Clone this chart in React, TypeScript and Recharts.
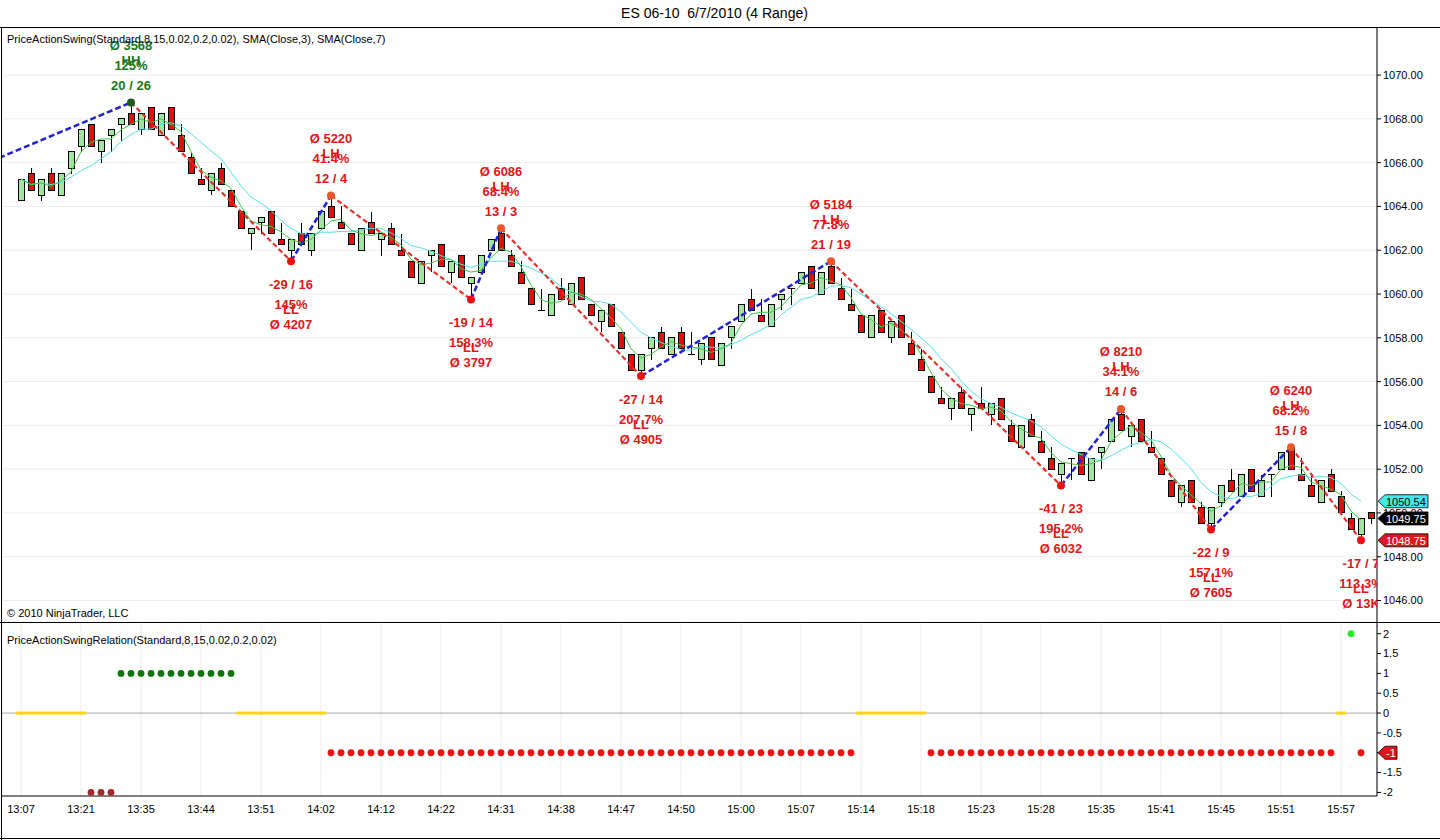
import React from 'react';
import {
  ComposedChart,
  Bar,
  Line,
  Scatter,
  XAxis,
  YAxis,
  CartesianGrid,
  ReferenceLine,
} from 'recharts';

const FONT = '"Liberation Sans", Arial, sans-serif';

// 4-range bars, one per index
const opens = [
  1064.25, 1065.5, 1064.5, 1065.5, 1064.5, 1065.75, 1066.75, 1067.75, 1066.5, 1067.25,
  1067.75, 1068.25, 1067.5, 1068.5, 1067.25, 1068.5, 1067.25, 1066.25, 1065.25, 1064.75,
  1065.75, 1064.75, 1063.75, 1062.75, 1063.25, 1063.75, 1062.5, 1062, 1062.75, 1062,
  1063, 1064, 1063.25, 1062.75, 1062, 1063.25, 1062.5, 1063, 1062, 1061.5,
  1060.5, 1061.75, 1062.25, 1061, 1061.75, 1060.5, 1061, 1062, 1062.75, 1061.75,
  1061, 1060.25, 1059.25, 1059, 1060.25, 1059.5, 1060.75, 1059.5, 1058.75, 1059.5,
  1058.25, 1057.25, 1056.5, 1057.5, 1058.25, 1057.25, 1058.25, 1057.25, 1057, 1058,
  1056.75, 1058, 1058.75, 1059.75, 1059, 1058.5, 1059.75, 1060.25, 1060.5, 1061.25,
  1060, 1061.25, 1060.25, 1059.5, 1059, 1058, 1059.25, 1058, 1059, 1057.75,
  1057, 1056.25, 1055.25, 1054.75, 1055.5, 1054.5, 1055, 1054.5, 1055.25, 1054,
  1053, 1054.25, 1053.25, 1052.5, 1051.75, 1052.5, 1052.75, 1051.5, 1052.75, 1053.25,
  1054.5, 1053.5, 1054.25, 1053, 1052.5, 1051.5, 1050.5, 1051.5, 1050.25, 1049.5,
  1050.5, 1051.5, 1050.75, 1052, 1050.75, 1051.75, 1052, 1053, 1051.75, 1051.25,
  1050.5, 1051.75, 1050.75, 1049.75, 1049, 1050,
];
const highs = [
  1065.25, 1065.75, 1065.25, 1065.75, 1065.5, 1066.5, 1067.5, 1067.75, 1067, 1067.5,
  1068, 1068.75, 1068.25, 1068.5, 1068.25, 1068.5, 1067.75, 1066.5, 1065.75, 1065.5,
  1066, 1064.75, 1063.75, 1063, 1063.5, 1063.75, 1063.25, 1062.5, 1063.25, 1062.75,
  1063.75, 1064.5, 1064, 1062.75, 1063, 1063.75, 1062.75, 1063.25, 1062.75, 1061.5,
  1061.5, 1062, 1062.25, 1061.5, 1061.75, 1060.75, 1061.75, 1062.5, 1063, 1062,
  1061.5, 1060.25, 1060.25, 1060, 1060.75, 1060.5, 1060.75, 1059.5, 1059.25, 1059.5,
  1058.25, 1057.25, 1057.25, 1058, 1058.5, 1058, 1058.5, 1058.25, 1057.75, 1058,
  1057.75, 1058.5, 1059.5, 1060.25, 1059.75, 1059.5, 1060, 1060.25, 1061, 1061.25,
  1061, 1061.5, 1060.75, 1060.25, 1059, 1059, 1059.25, 1058.75, 1059, 1058.25,
  1057.5, 1056.25, 1055.75, 1055.25, 1055.75, 1054.75, 1055.75, 1055, 1055.25, 1054.25,
  1054, 1054.5, 1053.75, 1053, 1052.25, 1052.5, 1052.75, 1052.5, 1053, 1054.25,
  1054.75, 1054, 1054.25, 1053.75, 1052.5, 1051.5, 1051.25, 1051.5, 1050.5, 1050.25,
  1051.25, 1052, 1051.75, 1052, 1051.75, 1051.75, 1052.75, 1053, 1052.5, 1051.75,
  1051.5, 1052, 1051, 1050, 1049.75, 1050,
];
const lows = [
  1064.25, 1064.75, 1064.25, 1064.75, 1064.5, 1065.5, 1066.5, 1066.75, 1066, 1066.5,
  1067, 1067.75, 1067.25, 1067.5, 1067.25, 1067.5, 1066.5, 1065.5, 1065, 1064.5,
  1065, 1064, 1063, 1062, 1062.75, 1062.75, 1062.25, 1061.5, 1062.25, 1061.75,
  1063, 1063.5, 1063, 1062.25, 1062, 1062.75, 1061.75, 1062.25, 1061.75, 1060.75,
  1060.5, 1061, 1061.25, 1060.5, 1060.75, 1059.75, 1061, 1062, 1062, 1061.25,
  1060.5, 1059.5, 1059.25, 1059, 1059.75, 1059.5, 1059.75, 1059, 1058.25, 1058.5,
  1057.5, 1056.5, 1056.25, 1057, 1057.5, 1057.25, 1057.5, 1057.25, 1056.75, 1057,
  1056.75, 1057.5, 1058.75, 1059.25, 1058.75, 1058.5, 1059.25, 1059.5, 1060.5, 1060.25,
  1060, 1060.5, 1059.75, 1059.25, 1058.25, 1058, 1058.25, 1057.75, 1058, 1057.25,
  1056.5, 1055.5, 1055, 1054.25, 1054.75, 1053.75, 1054.75, 1054, 1054.25, 1053.25,
  1053, 1053.5, 1052.75, 1052, 1051.25, 1051.5, 1051.75, 1051.5, 1052, 1053.25,
  1053.75, 1053, 1053.25, 1052.75, 1051.75, 1050.75, 1050.25, 1050.5, 1049.5, 1049.25,
  1050.25, 1051, 1050.75, 1051, 1050.75, 1050.75, 1052, 1052, 1051.5, 1050.75,
  1050.5, 1051, 1050, 1049.25, 1048.75, 1049.5,
];
const closes = [
  1065.25, 1064.75, 1065.25, 1064.75, 1065.5, 1066.5, 1067.5, 1066.75, 1067, 1067.5,
  1068, 1067.75, 1068.25, 1067.5, 1068.25, 1067.5, 1066.5, 1065.5, 1065, 1065.5,
  1065, 1064, 1063, 1063, 1063.5, 1062.75, 1062.25, 1062.5, 1062.25, 1062.75,
  1063.75, 1063.5, 1063, 1062.25, 1063, 1062.75, 1062.75, 1062.25, 1061.75, 1060.75,
  1061.5, 1062, 1061.25, 1061.5, 1060.75, 1060.75, 1061.75, 1062.5, 1062, 1061.25,
  1060.5, 1059.5, 1059.25, 1060, 1059.75, 1060.5, 1059.75, 1059, 1059.25, 1058.5,
  1057.5, 1056.5, 1057.25, 1058, 1057.5, 1058, 1057.5, 1057.25, 1057.75, 1057,
  1057.75, 1058.5, 1059.5, 1059.25, 1058.75, 1059.5, 1060, 1060.25, 1061, 1060.25,
  1061, 1060.5, 1059.75, 1059.25, 1058.25, 1059, 1058.25, 1058.75, 1058, 1057.25,
  1056.5, 1055.5, 1055, 1055.25, 1054.75, 1054.75, 1054.75, 1055, 1054.25, 1053.25,
  1054, 1053.5, 1052.75, 1052, 1052.25, 1052.5, 1051.75, 1052.5, 1053, 1054.25,
  1053.75, 1054, 1053.25, 1052.75, 1051.75, 1050.75, 1051.25, 1050.5, 1049.5, 1050.25,
  1051.25, 1051, 1051.75, 1051, 1051.5, 1051.75, 1052.75, 1052, 1051.5, 1050.75,
  1051.5, 1051, 1050, 1049.25, 1049.75, 1049.75,
];

// x-axis labels, one every 6 bars
const timeLabels = [
  '13:07', '13:21', '13:35', '13:44', '13:51', '14:02', '14:12', '14:22', '14:31', '14:38', '14:47', '14:50',
  '15:00', '15:07', '15:14', '15:18', '15:23', '15:28', '15:35', '15:41', '15:45', '15:51', '15:57',
];
const priceTicks = [1046, 1048, 1050, 1052, 1054, 1056, 1058, 1060, 1062, 1064, 1066, 1068, 1070];
const relationTicks = [2, 1.5, 1, 0.5, 0, -0.5, -1, -1.5, -2];

// swing points (first one is the previous swing low, left of the visible area)
const swingBars = [-8, 11, 27, 31, 45, 48, 62, 81, 104, 110, 119, 127, 134];
const swingPrices = [1065.1, 1068.75, 1061.5, 1064.5, 1059.75, 1063, 1056.25, 1061.5, 1051.25, 1054.75, 1049.25, 1053, 1048.75];
const swingKinds = ['', 'HH', 'LL', 'LH', 'LL', 'LH', 'LL', 'LH', 'LL', 'LH', 'LL', 'LH', 'LL'];
const swingLengths = ['', '20 / 26', '-29 / 16', '12 / 4', '-19 / 14', '13 / 3', '-27 / 14', '21 / 19', '-41 / 23', '14 / 6', '-22 / 9', '15 / 8', '-17 / 7'];
const swingPercents = ['', '125%', '145%', '41.4%', '158.3%', '68.4%', '207.7%', '77.8%', '195.2%', '34.1%', '157.1%', '68.2%', '113.3%'];
const swingVolumes = ['', 'Ø 3568', 'Ø 4207', 'Ø 5220', 'Ø 3797', 'Ø 6086', 'Ø 4905', 'Ø 5184', 'Ø 6032', 'Ø 8210', 'Ø 7605', 'Ø 6240', 'Ø 13K'];

// PriceActionSwingRelation value per bar
const relation: (number | null)[] = [
  0, 0, 0, 0, 0, 0, 0, -2, -2, -2,
  1, 1, 1, 1, 1, 1, 1, 1, 1, 1,
  1, 1, 0, 0, 0, 0, 0, 0, 0, 0,
  0, -1, -1, -1, -1, -1, -1, -1, -1, -1,
  -1, -1, -1, -1, -1, -1, -1, -1, -1, -1,
  -1, -1, -1, -1, -1, -1, -1, -1, -1, -1,
  -1, -1, -1, -1, -1, -1, -1, -1, -1, -1,
  -1, -1, -1, -1, -1, -1, -1, -1, -1, -1,
  -1, -1, -1, -1, 0, 0, 0, 0, 0, 0,
  0, -1, -1, -1, -1, -1, -1, -1, -1, -1,
  -1, -1, -1, -1, -1, -1, -1, -1, -1, -1,
  -1, -1, -1, -1, -1, -1, -1, -1, -1, -1,
  -1, -1, -1, -1, -1, -1, -1, -1, -1, -1,
  -1, -1, 0, 2, -1, null,
];

// SMA over closed bars (the last bar is still forming)
const lastClosed = 134;
const sma = (n: number) =>
  closes.map((_, k) => {
    if (k > lastClosed) return null;
    const win = closes.slice(Math.max(0, k - n + 1), k + 1);
    return win.reduce((a, b) => a + b, 0) / win.length;
  });
const sma3 = sma(3);
const sma7 = sma(7);

const candles = opens.map((o, k) => ({
  i: k,
  open: o,
  high: highs[k],
  low: lows[k],
  close: closes[k],
  sma3: sma3[k],
  sma7: sma7[k],
}));

const swingPts = swingBars
  .map((b, k) => ({
    i: b,
    price: swingPrices[k],
    kind: swingKinds[k],
    len: swingLengths[k],
    pct: swingPercents[k],
    vol: swingVolumes[k],
  }))
  .filter((p) => p.kind !== '');

const segments = swingBars.slice(1).map((b, k) => ({
  up: swingPrices[k + 1] > swingPrices[k],
  data: [
    { i: swingBars[k], price: swingPrices[k] },
    { i: b, price: swingPrices[k + 1] },
  ],
}));

const relRows = relation.map((v, k) => ({ i: k, v }));
const flatRows = relRows.filter((r) => r.v === 0);
const dotRows = relRows.filter((r) => r.v !== null && r.v !== 0);

const xTicks = timeLabels.map((_, k) => k * 6);
const X_DOMAIN: [number, number] = [-1.9, 135.6];
const PRICE_DOMAIN: [number, number] = [1045.02, 1072.15];
const REL_DOMAIN: [number, number] = [-2.09, 2.27];

function Candle(props: any) {
  const { x, y, width, height, payload } = props;
  if (!payload || x == null || y == null) return null;
  const top = Math.min(y, y + height);
  const span = Math.abs(height);
  const r = payload.high - payload.low || 1;
  const toY = (p: number) => top + ((payload.high - p) / r) * span;
  const cx = Math.round(x + width / 2) + 0.5;
  const bt = toY(Math.max(payload.open, payload.close));
  const bb = toY(Math.min(payload.open, payload.close));
  const up = payload.close > payload.open;
  return (
    <g shapeRendering="crispEdges">
      <line x1={cx} x2={cx} y1={top} y2={top + span} stroke="#000" strokeWidth={1} />
      {payload.open === payload.close ? (
        <line x1={cx - 3.5} x2={cx + 3.5} y1={bt} y2={bt} stroke="#000" strokeWidth={1} />
      ) : (
        <rect
          x={cx - 3}
          y={bt}
          width={6}
          height={Math.max(bb - bt, 1)}
          fill={up ? '#9fe49f' : '#e60c0c'}
          stroke="#000"
          strokeWidth={1}
        />
      )}
    </g>
  );
}

function SwingMark(props: any) {
  const { cx, cy, payload } = props;
  if (cx == null || cy == null) return null;
  const high = payload.kind !== 'LL';
  const green = payload.kind === 'HH';
  const txt = green ? '#197819' : '#e21616';
  const dot = green ? '#1d5a1d' : high ? '#f0542a' : '#ee1010';
  const rows: [number, string][] = high
    ? [[-57, payload.vol], [-42, payload.kind], [-37, payload.pct], [-17, payload.len]]
    : [[23, payload.len], [43, payload.pct], [48, payload.kind], [63, payload.vol]];
  return (
    <g>
      <circle cx={cx} cy={cy} r={4} fill={dot} />
      {rows.map(([dy, s], k) => (
        <text
          key={k}
          x={cx}
          y={cy + dy}
          textAnchor="middle"
          dominantBaseline="central"
          fontFamily={FONT}
          fontWeight="bold"
          fontSize={13}
          fill={txt}
        >
          {s}
        </text>
      ))}
    </g>
  );
}

function FlatMark(props: any) {
  const { cx, cy } = props;
  if (cx == null || cy == null) return null;
  return <rect x={cx - 5} y={cy - 1.5} width={10} height={3} fill="#ffd21e" />;
}

function RelDot(props: any) {
  const { cx, cy, payload } = props;
  if (cx == null || cy == null) return null;
  const colors: Record<string, string> = { '2': '#22ee22', '1': '#0e760e', '-1': '#ee1111', '-2': '#a4282a' };
  return <circle cx={cx} cy={cy} r={3.4} fill={colors[String(payload.v)]} />;
}

// price tag on the right axis, drawn from a reference line's position
const tag = (text: string, fill: string, color: string, w: number) => (p: any) => {
  const vb = p.viewBox || {};
  const x0 = (vb.x ?? 0) + (vb.width ?? 0) + 1;
  const y = vb.y ?? 0;
  const pts = `${x0},${y} ${x0 + 7},${y - 6.5} ${x0 + w},${y - 6.5} ${x0 + w},${y + 6.5} ${x0 + 7},${y + 6.5}`;
  return (
    <g>
      <polygon points={pts} fill={fill} stroke="#000" strokeWidth={0.8} />
      <text x={x0 + 8} y={y + 0.5} dominantBaseline="central" fontFamily={FONT} fontSize={11} fill={color}>
        {text}
      </text>
    </g>
  );
};

const axisTick = { fontSize: 11, fill: '#000', fontFamily: FONT };

function PriceChart() {
  return (
    <ComposedChart width={1440} height={594} data={candles} margin={{ top: 0, right: 0, bottom: 0, left: 2 }}>
      <CartesianGrid stroke="#ececec" />
      <XAxis
        type="number"
        dataKey="i"
        domain={X_DOMAIN}
        ticks={xTicks}
        allowDataOverflow
        interval={0}
        tick={false}
        axisLine={false}
        tickLine={false}
        height={0}
      />
      <YAxis
        orientation="right"
        domain={PRICE_DOMAIN}
        ticks={priceTicks}
        allowDataOverflow
        interval={0}
        width={63}
        tickSize={4}
        tickMargin={2}
        tick={axisTick}
        tickFormatter={(v: number) => v.toFixed(2)}
        axisLine={{ stroke: '#000' }}
        tickLine={{ stroke: '#000' }}
      />
      <Bar
        dataKey={(d: any) => [d.low, d.high]}
        barSize={7}
        shape={<Candle />}
        isAnimationActive={false}
      />
      <Line dataKey="sma7" stroke="#55e3e3" strokeWidth={1} dot={false} isAnimationActive={false} />
      <Line dataKey="sma3" stroke="#3fc83f" strokeWidth={1} dot={false} isAnimationActive={false} />
      {segments.map((s, k) => (
        <Line
          key={k}
          data={s.data}
          dataKey="price"
          stroke={s.up ? '#2222d4' : '#e5302a'}
          strokeWidth={s.up ? 2.5 : 2.2}
          strokeDasharray={s.up ? '6 3' : '5 3'}
          dot={false}
          isAnimationActive={false}
        />
      ))}
      <Scatter data={swingPts} dataKey="price" shape={SwingMark} isAnimationActive={false} />
    </ComposedChart>
  );
}

// transparent layer with the same scales, so the tags sit above the axis labels
function PriceTags() {
  const lastSma = sma7[lastClosed] as number;
  const lastClose = closes[closes.length - 1];
  const lastSwing = swingPrices[swingPrices.length - 1];
  return (
    <ComposedChart width={1440} height={594} data={candles} margin={{ top: 0, right: 63, bottom: 0, left: 2 }}>
      <XAxis type="number" dataKey="i" domain={X_DOMAIN} allowDataOverflow hide />
      <YAxis domain={PRICE_DOMAIN} allowDataOverflow hide />
      <ReferenceLine y={lastSma} stroke="none" label={tag(lastSma.toFixed(2), '#46e6ee', '#000', 50)} />
      <ReferenceLine y={lastClose} stroke="none" label={tag(lastClose.toFixed(2), '#000', '#fff', 50)} />
      <ReferenceLine y={lastSwing} stroke="none" label={tag(lastSwing.toFixed(2), '#e3141c', '#fff', 50)} />
    </ComposedChart>
  );
}

function RelationChart() {
  return (
    <ComposedChart width={1440} height={217} data={relRows} margin={{ top: 0, right: 0, bottom: 0, left: 2 }}>
      <CartesianGrid stroke="#ececec" horizontal={false} />
      <XAxis
        type="number"
        dataKey="i"
        domain={X_DOMAIN}
        ticks={xTicks}
        allowDataOverflow
        interval={0}
        height={44}
        tickLine={false}
        tickMargin={3}
        tick={axisTick}
        tickFormatter={(v: number) => timeLabels[Math.round(v / 6)]}
        axisLine={{ stroke: '#000' }}
      />
      <YAxis
        orientation="right"
        domain={REL_DOMAIN}
        ticks={relationTicks}
        allowDataOverflow
        interval={0}
        width={63}
        tickSize={4}
        tickMargin={2}
        tick={axisTick}
        axisLine={{ stroke: '#000' }}
        tickLine={{ stroke: '#000' }}
      />
      <ReferenceLine y={0} stroke="#a8a8a8" />
      <Scatter data={flatRows} dataKey="v" shape={FlatMark} isAnimationActive={false} />
      <Scatter data={dotRows} dataKey="v" shape={RelDot} isAnimationActive={false} />
    </ComposedChart>
  );
}

function RelationTags() {
  const lastRel = dotRows[dotRows.length - 1].v as number;
  return (
    <ComposedChart width={1440} height={217} data={relRows} margin={{ top: 0, right: 63, bottom: 44, left: 2 }}>
      <XAxis type="number" dataKey="i" domain={X_DOMAIN} allowDataOverflow hide />
      <YAxis domain={REL_DOMAIN} allowDataOverflow hide />
      <ReferenceLine y={lastRel} stroke="none" label={tag(String(lastRel), '#e3141c', '#fff', 19)} />
    </ComposedChart>
  );
}

const rule = (style: React.CSSProperties) => <div style={{ position: 'absolute', background: '#000', ...style }} />;

export default function App() {
  return (
    <div
      style={{
        position: 'absolute',
        left: 0,
        top: 0,
        width: 1440,
        height: 840,
        background: '#fff',
        fontFamily: FONT,
        overflow: 'hidden',
      }}
    >
      <div style={{ position: 'absolute', left: 0, top: 5, width: 1429, textAlign: 'center', fontSize: 14, whiteSpace: 'pre' }}>
        {'ES 06-10  6/7/2010 (4 Range)'}
      </div>
      <div style={{ position: 'absolute', left: 0, top: 28 }}>
        <PriceChart />
      </div>
      <div style={{ position: 'absolute', left: 0, top: 28 }}>
        <PriceTags />
      </div>
      <div style={{ position: 'absolute', left: 0, top: 623 }}>
        <RelationChart />
      </div>
      <div style={{ position: 'absolute', left: 0, top: 623 }}>
        <RelationTags />
      </div>
      <div style={{ position: 'absolute', left: 7, top: 32, fontSize: 11, lineHeight: '14px' }}>
        PriceActionSwing(Standard,8,15,0.02,0.2,0.02), SMA(Close,3), SMA(Close,7)
      </div>
      <div style={{ position: 'absolute', left: 7, top: 606, fontSize: 11, lineHeight: '14px' }}>© 2010 NinjaTrader, LLC</div>
      <div style={{ position: 'absolute', left: 7, top: 633, fontSize: 11, lineHeight: '14px' }}>
        PriceActionSwingRelation(Standard,8,15,0.02,0.2,0.02)
      </div>
      {rule({ left: 0, top: 27, width: 1440, height: 1 })}
      {rule({ left: 0, top: 622, width: 1440, height: 1 })}
      {rule({ left: 1, top: 27, width: 1, height: 813 })}
      {rule({ left: 0, top: 838, width: 1440, height: 1 })}
    </div>
  );
}
